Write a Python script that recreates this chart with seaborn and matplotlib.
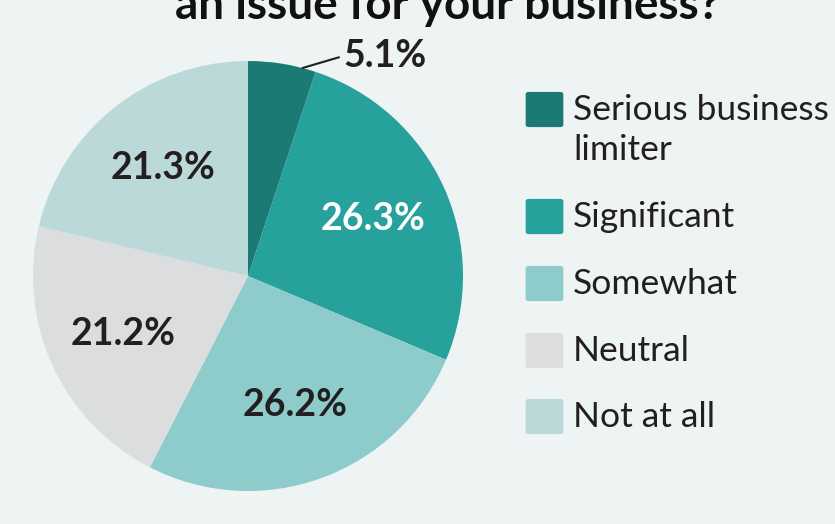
import matplotlib
matplotlib.use("Agg")
import numpy as np
import seaborn as sns
import matplotlib.pyplot as plt
from matplotlib.patches import FancyBboxPatch

# data
categories = ["Serious business\nlimiter", "Significant", "Somewhat", "Neutral", "Not at all"]
shares = [5.1, 26.3, 26.2, 21.2, 21.3]
pct_labels = ["5.1%", "26.3%", "26.2%", "21.2%", "21.3%"]
colors = ["#1b7a74", "#26a19b", "#8ecbcb", "#dcdddf", "#bcd9da"]
label_colors = ["#231f20", "white", "#231f20", "#231f20", "#231f20"]

bg = "#eef3f3"
sns.set_theme(style="white")
plt.rcParams["font.family"] = ["Lato", "DejaVu Sans"]

W, H = 835, 524
fig = plt.figure(figsize=(W / 100, H / 100), dpi=100, facecolor=bg)

# pie centred at (248, 276) px with radius 215 px
cx, cy, r = 248, 276, 215
ax = fig.add_axes([(cx - r) / W, (H - cy - r) / H, 2 * r / W, 2 * r / H])
ax.set_facecolor(bg)
wedges, _ = ax.pie(shares, colors=colors, startangle=90, counterclock=False,
                   radius=1, wedgeprops=dict(linewidth=0))
ax.set_xlim(-1, 1)
ax.set_ylim(-1, 1)
ax.set_aspect("equal")
ax.axis("off")

for i, w in enumerate(wedges):
    mid = np.deg2rad((w.theta1 + w.theta2) / 2)
    if i == 0:
        a = np.deg2rad(w.theta1 + 0.2 * (w.theta2 - w.theta1))
        x0, y0 = np.cos(a), np.sin(a)
        x1, y1 = x0 + 0.17, y0 + 0.05
        ax.plot([x0, x1], [y0, y1], color="#231f20", lw=1.5, clip_on=False)
        ax.text(x1 + 0.02, y1 + 0.005, pct_labels[i], ha="left", va="center",
                fontsize=27, fontweight="bold", color=label_colors[i])
    else:
        d = 0.64
        ax.text(d * np.cos(mid), d * np.sin(mid), pct_labels[i], ha="center",
                va="center", fontsize=27, fontweight="bold", color=label_colors[i])

# legend drawn by hand so boxes align with the first line of each label
rows_y = [110, 217, 284, 351, 417]
for cat, col, y in zip(categories, colors, rows_y):
    box = FancyBboxPatch(((526 + 3) / W, (H - y - 18 + 3) / H), 31 / W, 31 / H,
                         boxstyle="round,pad=0.004", transform=fig.transFigure,
                         facecolor=col, edgecolor="none")
    fig.patches.append(box)
    nlines = cat.count("\n") + 1
    yc = y + (nlines - 1) * 20
    fig.text(573 / W, (H - yc) / H, cat, ha="left", va="center",
             fontsize=25.5, color="#231f20", linespacing=1.28)

fig.text(447 / W, (H - 19) / H, "an issue for your business?", ha="center",
         va="baseline", fontsize=33, fontweight="bold", color="#111111")

fig.savefig("out.png", dpi=100, facecolor=bg)
